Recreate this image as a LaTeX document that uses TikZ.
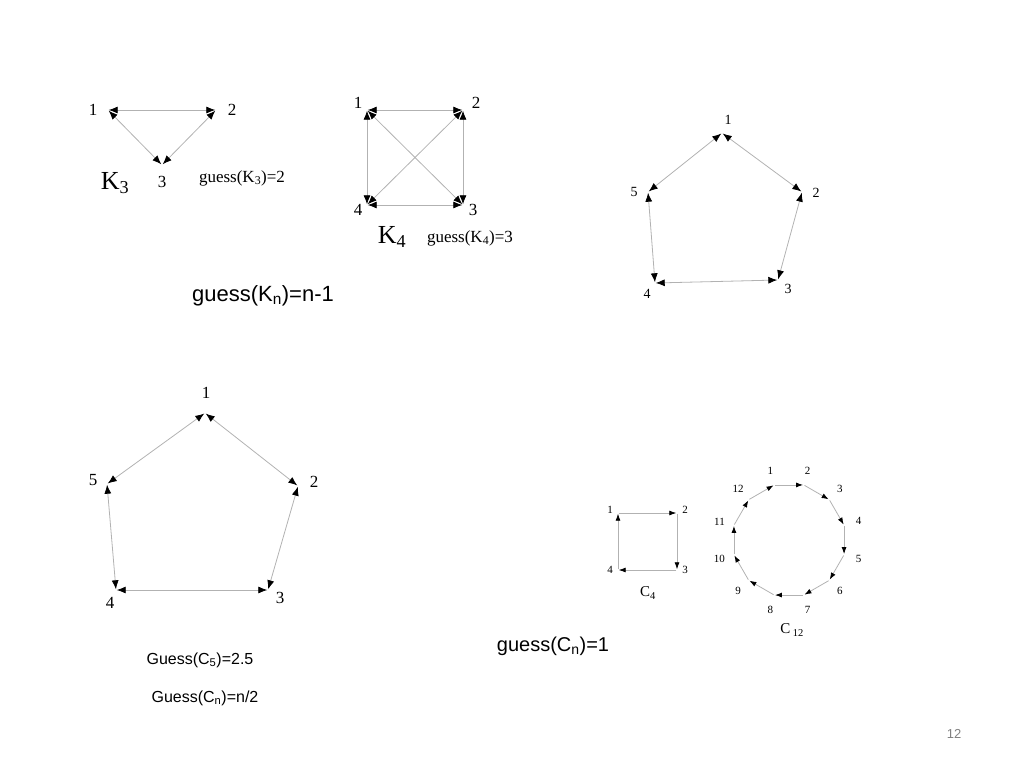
\documentclass[tikz,border=0pt]{standalone}
\usepackage{fontspec}
\setsansfont{Liberation Sans}
\setmainfont{Liberation Serif}
\usetikzlibrary{arrows.meta,positioning}

\begin{document}
\begin{tikzpicture}[x=1pt,y=-1pt,
    vertex/.style={inner sep=0pt,minimum size=1pt},
    lbl/.style={font=\fontsize{17}{17}\selectfont},
    tiny/.style={font=\fontsize{11}{11}\selectfont},
    both/.style={draw=gray!60,line width=0.8pt,{Latex[black,length=9pt,width=7pt]}-{Latex[black,length=9pt,width=7pt]}},
    dir/.style={draw=gray!60,line width=0.8pt,-{Latex[black,length=7pt,width=5pt]}},
    guess/.style={font=\sffamily\fontsize{20}{20}\selectfont}]
    \useasboundingbox (0,0) rectangle (1024,768);

    % K3
    \node[vertex] (a1) at (108,110) {};
    \node[vertex] (a2) at (216,110) {};
    \node[vertex] (a3) at (162,165) {};
    \draw[both] (a1) -- (a2);
    \draw[both] (a2) -- (a3);
    \draw[both] (a3) -- (a1);
    \node[lbl] at (93,110) {1};
    \node[lbl] at (232,110) {2};
    \node[lbl] at (162,182) {3};
    \node[font=\fontsize{26}{26}\selectfont] at (115,183) {K\textsubscript{3}};
    \node[lbl] at (242,178) {guess(K\textsubscript{3})=2};

    % K4
    \node[vertex] (b1) at (367,110) {};
    \node[vertex] (b2) at (463,110) {};
    \node[vertex] (b3) at (463,205) {};
    \node[vertex] (b4) at (367,205) {};
    \foreach \u/\v in {b1/b2,b2/b3,b3/b4,b4/b1,b1/b3,b2/b4}
        \draw[both] (\u) -- (\v);
    \node[lbl] at (358,103) {1};
    \node[lbl] at (476,103) {2};
    \node[lbl] at (473,210) {3};
    \node[lbl] at (358,210) {4};
    \node[font=\fontsize{26}{26}\selectfont] at (392,237) {K\textsubscript{4}};
    \node[lbl] at (470,238) {guess(K\textsubscript{4})=3};

    \node[guess,font=\sffamily\fontsize{22}{22}\selectfont] at (263,296) {guess(K\textsubscript{n})=n-1};

    % pentagon, top right
    \node[vertex] (c1) at (722,133) {};
    \node[vertex] (c2) at (802,192) {};
    \node[vertex] (c3) at (778,280) {};
    \node[vertex] (c4) at (655,283) {};
    \node[vertex] (c5) at (648,192) {};
    \foreach \u/\v in {c1/c2,c2/c3,c3/c4,c4/c5,c5/c1}
        \draw[both] (\u) -- (\v);
    \node[lbl,font=\fontsize{14}{14}\selectfont] at (728,120) {1};
    \node[lbl,font=\fontsize{14}{14}\selectfont] at (816,193) {2};
    \node[lbl,font=\fontsize{14}{14}\selectfont] at (788,289) {3};
    \node[lbl,font=\fontsize{14}{14}\selectfont] at (647,294) {4};
    \node[lbl,font=\fontsize{14}{14}\selectfont] at (634,192) {5};

    % pentagon, bottom left
    \node[vertex] (d1) at (205,413) {};
    \node[vertex] (d2) at (298,486) {};
    \node[vertex] (d3) at (268,590) {};
    \node[vertex] (d4) at (116,590) {};
    \node[vertex] (d5) at (107,484) {};
    \foreach \u/\v in {d1/d2,d2/d3,d3/d4,d4/d5,d5/d1}
        \draw[both] (\u) -- (\v);
    \node[lbl] at (206,393) {1};
    \node[lbl] at (314,482) {2};
    \node[lbl] at (280,598) {3};
    \node[lbl] at (110,603) {4};
    \node[lbl] at (93,480) {5};
    \node[guess,font=\sffamily\fontsize{16}{16}\selectfont] at (200,660) {Guess(C\textsubscript{5})=2.5};
    \node[guess,font=\sffamily\fontsize{16}{16}\selectfont] at (205,698) {Guess(C\textsubscript{n})=n/2};

    % C4
    \node[vertex] (e1) at (618,513) {};
    \node[vertex] (e2) at (677,513) {};
    \node[vertex] (e3) at (677,570) {};
    \node[vertex] (e4) at (618,570) {};
    \foreach \u/\v in {e1/e2,e2/e3,e3/e4,e4/e1}
        \draw[dir] (\u) -- (\v);
    \node[tiny] at (610,510) {1};
    \node[tiny] at (685,510) {2};
    \node[tiny] at (685,570) {3};
    \node[tiny] at (610,570) {4};
    \node[font=\fontsize{15}{15}\selectfont] at (648,593) {C\textsubscript{4}};

    % C12
    \foreach \i in {1,...,12} {
        \node[vertex] (f\i) at ({789+57*cos(105-30*(\i-1))},{540-57*sin(105-30*(\i-1))}) {};
        \node[tiny] at ({789+72*cos(105-30*(\i-1))},{540-72*sin(105-30*(\i-1))}) {\i};
    }
    \foreach \i [evaluate=\i as \j using {int(mod(\i,12)+1)}] in {1,...,12}
        \draw[dir] (f\i) -- (f\j);
    \node[font=\fontsize{15}{15}\selectfont] at (792,630) {C\,\textsubscript{12}};

    \node[guess] at (553,646) {guess(C\textsubscript{n})=1};

    \node[font=\sffamily\fontsize{13}{13}\selectfont,gray] at (954,734) {12};
\end{tikzpicture}
\end{document}
